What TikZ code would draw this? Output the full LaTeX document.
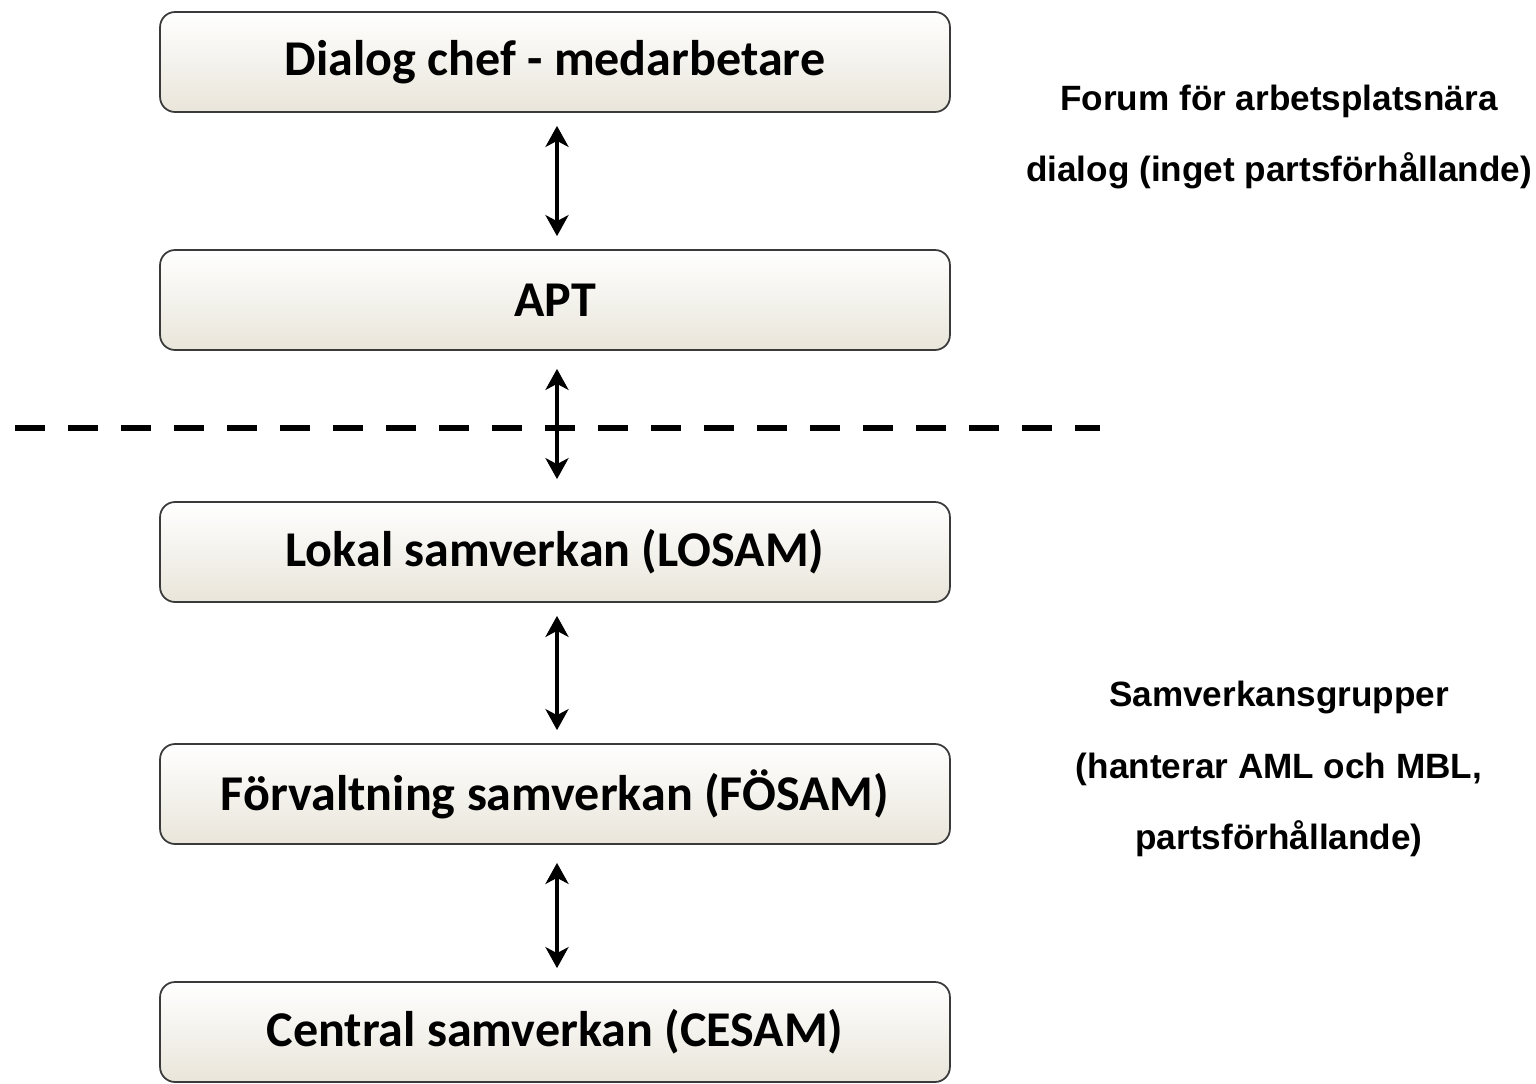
\documentclass[tikz,border=0pt]{standalone}
\usepackage{fontspec}
\setmainfont{Carlito}
\newfontfamily\notefont{Liberation Sans}
\usetikzlibrary{arrows.meta}
\definecolor{BoxLine}{HTML}{3A3A3A}
\definecolor{BoxLow}{HTML}{E9E5DA}

\begin{document}
\begin{tikzpicture}[x=0.02cm,y=-0.02cm,
    levelbox/.style={draw=BoxLine,line width=1pt,rounded corners=0.3cm,
      top color=white,bottom color=BoxLow,minimum width=15.8cm,minimum height=2cm,
      font=\fontsize{28.5}{33}\selectfont\bfseries},
    link/.style={{Stealth[length=0.42cm,width=0.46cm,inset=0.12cm]}-{Stealth[length=0.42cm,width=0.46cm,inset=0.12cm]},
      line width=2.4pt,shorten <=0.26cm,shorten >=0.26cm},
    notetext/.style={align=center,font=\notefont\fontsize{20}{40.5}\selectfont\bfseries}]
  \useasboundingbox (0,0) rectangle (1536,1083);
  % levels
  \node[levelbox] (dialog) at (555,62) {Dialog chef - medarbetare};
  \node[levelbox] (apt) at (555,300) {APT};
  \node[levelbox] (losam) at (555,552) {Lokal samverkan (LOSAM)};
  \node[levelbox] (fosam) at (555,794) {Förvaltning samverkan (FÖSAM)};
  \node[levelbox] (cesam) at (555,1032) {Central samverkan (CESAM)};
  % dividing line
  \coordinate (dl) at (15,428);
  \coordinate (dr) at (1100,428);
  \draw[line width=3.6pt,dash pattern=on 0.6cm off 0.46cm] (dl) -- (dr);
  % links
  \draw[link] (dialog.south -| 557,0) -- (apt.north -| 557,0);
  \draw[link] ([yshift=-0.1cm]apt.south -| 557,0) -- ([yshift=0.18cm]losam.north -| 557,0);
  \draw[link] (losam.south -| 557,0) -- (fosam.north -| 557,0);
  \draw[link] ([yshift=-0.1cm]fosam.south -| 557,0) -- (cesam.north -| 557,0);
  % notes
  \node[notetext] (forum) at (1279,137) {Forum för arbetsplatsnära\\dialog (inget partsförhållande)};
  \node[notetext] (grupper) at (1279,769) {Samverkansgrupper\\(hanterar AML och MBL,\\partsförhållande)};
\end{tikzpicture}
\end{document}
